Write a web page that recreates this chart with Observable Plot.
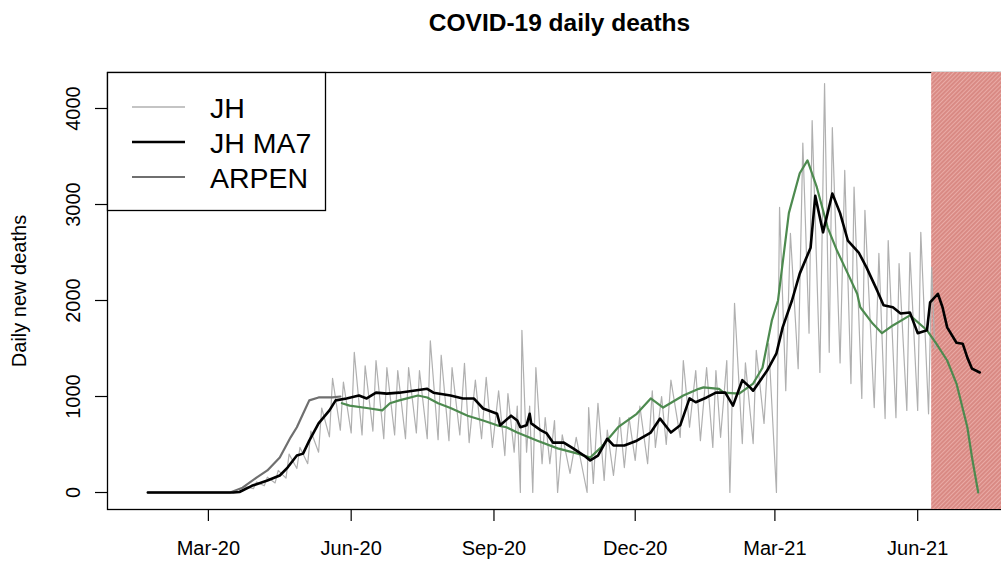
<!DOCTYPE html>
<html><head><meta charset="utf-8">
<script src="https://cdn.jsdelivr.net/npm/d3@7"></script>
<script src="https://cdn.jsdelivr.net/npm/@observablehq/plot@0.6"></script>
<style>body{margin:0;background:#fff;} #chart{width:1001px;height:561px;}</style>
</head><body><div id="chart"></div>
<script>
// ---------- data ----------
const title = "COVID-19 daily deaths";
const yLabel = "Daily new deaths";
const xTickDates = ["2020-03-01","2020-06-01","2020-09-01","2020-12-01","2021-03-01","2021-06-01"];
const xTickLabels = ["Mar-20","Jun-20","Sep-20","Dec-20","Mar-21","Jun-21"];
const yTicks = [0,1000,2000,3000,4000];
const legendLabels = ["JH","JH MA7","ARPEN"];
const shadeStart = "2021-06-10";
const shadeEnd = "2021-07-31";

// JH daily deaths (weekly highs / lows)
const jhDates = ["2020-01-22","2020-03-16","2020-03-18","2020-03-23","2020-03-25","2020-03-30","2020-04-01","2020-04-06","2020-04-08","2020-04-13","2020-04-15","2020-04-20","2020-04-22","2020-04-27","2020-04-29","2020-05-04","2020-05-06","2020-05-11","2020-05-13","2020-05-18","2020-05-20","2020-05-25","2020-05-27","2020-06-01","2020-06-03","2020-06-08","2020-06-10","2020-06-15","2020-06-17","2020-06-22","2020-06-24","2020-06-29","2020-07-01","2020-07-06","2020-07-08","2020-07-13","2020-07-15","2020-07-20","2020-07-22","2020-07-27","2020-07-29","2020-08-03","2020-08-05","2020-08-10","2020-08-13","2020-08-16","2020-08-20","2020-08-24","2020-08-27","2020-08-31","2020-09-04","2020-09-08","2020-09-10","2020-09-14","2020-09-16","2020-09-18","2020-09-19","2020-09-22","2020-09-24","2020-09-26","2020-09-28","2020-10-02","2020-10-04","2020-10-07","2020-10-10","2020-10-12","2020-10-15","2020-10-20","2020-10-24","2020-10-31","2020-11-01","2020-11-04","2020-11-07","2020-11-11","2020-11-13","2020-11-17","2020-11-21","2020-11-24","2020-11-27","2020-12-01","2020-12-04","2020-12-09","2020-12-12","2020-12-14","2020-12-18","2020-12-21","2020-12-24","2020-12-30","2021-01-01","2021-01-05","2021-01-09","2021-01-12","2021-01-16","2021-01-20","2021-01-22","2021-01-25","2021-01-29","2021-01-31","2021-02-03","2021-02-08","2021-02-10","2021-02-15","2021-02-17","2021-02-22","2021-02-25","2021-03-02","2021-03-04","2021-03-08","2021-03-11","2021-03-16","2021-03-19","2021-03-23","2021-03-25","2021-03-30","2021-04-02","2021-04-05","2021-04-07","2021-04-12","2021-04-15","2021-04-19","2021-04-21","2021-04-26","2021-04-28","2021-05-04","2021-05-07","2021-05-11","2021-05-13","2021-05-18","2021-05-20","2021-05-25","2021-05-27","2021-06-01","2021-06-03","2021-06-08","2021-06-10","2021-06-12"];
const jhValues = [0,0,5,15,60,40,110,70,160,100,230,150,400,250,470,300,640,420,880,580,1190,650,1150,620,1460,600,1320,640,1375,560,1300,600,1270,560,1300,620,1270,560,1580,550,1430,540,1300,600,1345,520,1170,560,1200,470,1060,385,1030,420,900,0,1690,420,900,0,1300,300,780,300,750,0,600,200,575,0,885,95,930,125,650,177,780,260,780,335,900,300,1060,470,1000,500,1170,575,1375,680,1270,540,1300,470,1270,575,1375,0,1970,510,1350,510,1480,720,1550,0,2970,1060,2700,1290,3640,1660,3875,1250,4260,1460,3800,1350,3355,1135,3180,980,2940,885,2490,770,2625,780,2385,855,2500,855,2710,820,2345,1500];

// JH 7-day moving average
const maDates = ["2020-01-22","2020-03-17","2020-03-21","2020-03-29","2020-04-08","2020-04-16","2020-04-21","2020-04-27","2020-05-01","2020-05-05","2020-05-11","2020-05-18","2020-05-22","2020-05-29","2020-06-06","2020-06-11","2020-06-17","2020-06-24","2020-07-02","2020-07-11","2020-07-20","2020-07-24","2020-08-04","2020-08-12","2020-08-19","2020-08-25","2020-09-03","2020-09-05","2020-09-12","2020-09-16","2020-09-18","2020-09-22","2020-09-24","2020-09-25","2020-10-01","2020-10-05","2020-10-09","2020-10-16","2020-10-22","2020-10-29","2020-11-02","2020-11-07","2020-11-13","2020-11-17","2020-11-24","2020-12-02","2020-12-11","2020-12-17","2020-12-24","2020-12-30","2021-01-05","2021-01-09","2021-01-16","2021-01-22","2021-01-28","2021-02-02","2021-02-08","2021-02-13","2021-02-15","2021-02-24","2021-03-02","2021-03-06","2021-03-12","2021-03-17","2021-03-24","2021-03-27","2021-04-01","2021-04-07","2021-04-12","2021-04-17","2021-04-24","2021-04-29","2021-05-06","2021-05-10","2021-05-16","2021-05-21","2021-05-27","2021-06-01","2021-06-07","2021-06-09","2021-06-14","2021-06-17","2021-06-20","2021-06-26","2021-06-30","2021-07-03","2021-07-06","2021-07-11"];
const maValues = [0,0,5,70,125,177,260,385,405,540,720,855,960,980,1010,980,1040,1030,1040,1060,1080,1040,1010,980,980,875,820,700,800,750,680,700,820,720,650,615,520,520,460,385,335,385,560,490,490,540,625,770,625,700,980,940,990,1040,1040,905,1170,1095,1060,1270,1450,1720,2000,2280,2550,3090,2710,3115,2910,2625,2500,2345,2100,1950,1930,1865,1875,1660,1690,1980,2070,1930,1720,1560,1550,1405,1290,1250];

// ARPEN (early part, grey)
const arpenDates = ["2020-01-22","2020-03-15","2020-03-23","2020-04-01","2020-04-08","2020-04-16","2020-04-23","2020-04-27","2020-05-01","2020-05-05","2020-05-11","2020-05-20","2020-05-25"];
const arpenValues = [0,0,50,155,230,365,575,680,820,960,990,990,1000];

// ARPEN (later part, green)
const greenDates = ["2020-05-26","2020-05-31","2020-06-11","2020-06-21","2020-06-26","2020-07-02","2020-07-07","2020-07-14","2020-07-20","2020-07-27","2020-08-04","2020-08-15","2020-08-25","2020-09-03","2020-09-09","2020-09-16","2020-09-29","2020-10-12","2020-10-25","2020-11-02","2020-11-09","2020-11-20","2020-12-02","2020-12-11","2020-12-19","2021-01-01","2021-01-11","2021-01-14","2021-01-24","2021-01-27","2021-02-06","2021-02-15","2021-02-21","2021-02-27","2021-03-03","2021-03-10","2021-03-17","2021-03-22","2021-03-28","2021-04-04","2021-04-10","2021-04-17","2021-04-23","2021-04-25","2021-05-03","2021-05-09","2021-05-16","2021-05-27","2021-06-07","2021-06-13","2021-06-20","2021-06-26","2021-07-03","2021-07-06","2021-07-10"];
const greenValues = [930,905,880,855,930,960,980,1010,990,930,880,800,750,700,680,625,540,460,405,365,470,680,820,980,885,1010,1080,1095,1080,1040,1030,1135,1300,1790,2000,2910,3325,3460,3180,2760,2520,2280,2070,1930,1760,1660,1740,1845,1690,1550,1375,1135,680,365,0];

// ---------- build ----------
const parse = d3.utcParse("%Y-%m-%d");
const toRows = (ds, vs) => ds.map((d, i) => ({date: parse(d), value: vs[i]}));
const jh = toRows(jhDates, jhValues);
const ma = toRows(maDates, maValues);
const arpen = toRows(arpenDates, arpenValues);
const green = toRows(greenDates, greenValues);
const tickDates = xTickDates.map(parse);
const tickLabel = new Map(tickDates.map((d, i) => [+d, xTickLabels[i]]));

const FONT = "'Liberation Sans', Arial, Helvetica, sans-serif";
const svg = Plot.plot({
  width: 1001, height: 561,
  marginLeft: 107, marginRight: 0, marginTop: 72, marginBottom: 52,
  style: {fontFamily: FONT, background: "#fff", color: "#000"},
  x: {type: "utc", domain: [parse("2019-12-27"), parse("2021-07-25")]},
  y: {domain: [-177, 4375]},
  marks: [
    Plot.frame({stroke: "#000", strokeWidth: 1.3}),
    Plot.rect([{x1: parse(shadeStart), x2: parse(shadeEnd)}], {x1: "x1", x2: "x2", fill: "url(#hatch)"}),
    Plot.line(jh, {x: "date", y: "value", stroke: "#b0b0b0", strokeWidth: 1.2}),
    Plot.line(arpen, {x: "date", y: "value", stroke: "#6f6f6f", strokeWidth: 2.2}),
    Plot.line(green, {x: "date", y: "value", stroke: "#4d8a4f", strokeWidth: 2.2}),
    Plot.line(ma, {x: "date", y: "value", stroke: "#000", strokeWidth: 2.6}),
    Plot.axisX(tickDates, {tickSize: 12, tickPadding: 19, fontSize: 20, strokeWidth: 1.2, tickFormat: d => tickLabel.get(+d), label: null}),
    Plot.axisY(yTicks, {tickSize: 12, strokeWidth: 1.2, tickFormat: () => "", label: null}),
    Plot.text(yTicks, {y: d => d, text: d => String(d), frameAnchor: "left", dx: -34, rotate: -90, fontSize: 20, textAnchor: "middle", lineAnchor: "middle", fill: "#000"}),
    Plot.text([yLabel], {frameAnchor: "left", dx: -88, rotate: -90, fontSize: 20, textAnchor: "middle", lineAnchor: "middle", fill: "#000"}),
    Plot.text([title], {frameAnchor: "top", dx: 5, dy: -49, fontSize: 24.5, fontWeight: "bold", lineAnchor: "middle", fill: "#000"})
  ]
});

// hatch pattern for the shaded period
const s = d3.select(svg);
const defs = s.insert("defs", ":first-child");
const pat = defs.append("pattern").attr("id", "hatch").attr("patternUnits", "userSpaceOnUse")
  .attr("width", 3).attr("height", 3).attr("patternTransform", "rotate(45)");
pat.append("rect").attr("width", 3).attr("height", 3).attr("fill", "#e9aaa5");
pat.append("line").attr("x1", 1).attr("y1", 0).attr("x2", 1).attr("y2", 3).attr("stroke", "#c96a63").attr("stroke-width", 1);

// legend (R-style box at top-left of plot region)
const leg = s.append("g").attr("font-family", FONT).attr("text-anchor", "start");
leg.append("rect").attr("x", 107.5).attr("y", 72.5).attr("width", 218).attr("height", 138)
  .attr("fill", "#fff").attr("stroke", "#000").attr("stroke-width", 1.3);
const legColors = ["#b0b0b0", "#000", "#6f6f6f"];
const legWidths = [1.6, 2.6, 2.2];
const rowY = [107, 142, 177];
legendLabels.forEach((lab, i) => {
  leg.append("line").attr("x1", 132).attr("x2", 185).attr("y1", rowY[i]).attr("y2", rowY[i])
    .attr("stroke", legColors[i]).attr("stroke-width", legWidths[i]);
  leg.append("text").attr("x", 210).attr("y", rowY[i] + 11).attr("font-size", 28.5)
    .attr("text-anchor", "start").attr("fill", "#000").text(lab);
});

document.getElementById("chart").appendChild(svg);
</script>
</body></html>
